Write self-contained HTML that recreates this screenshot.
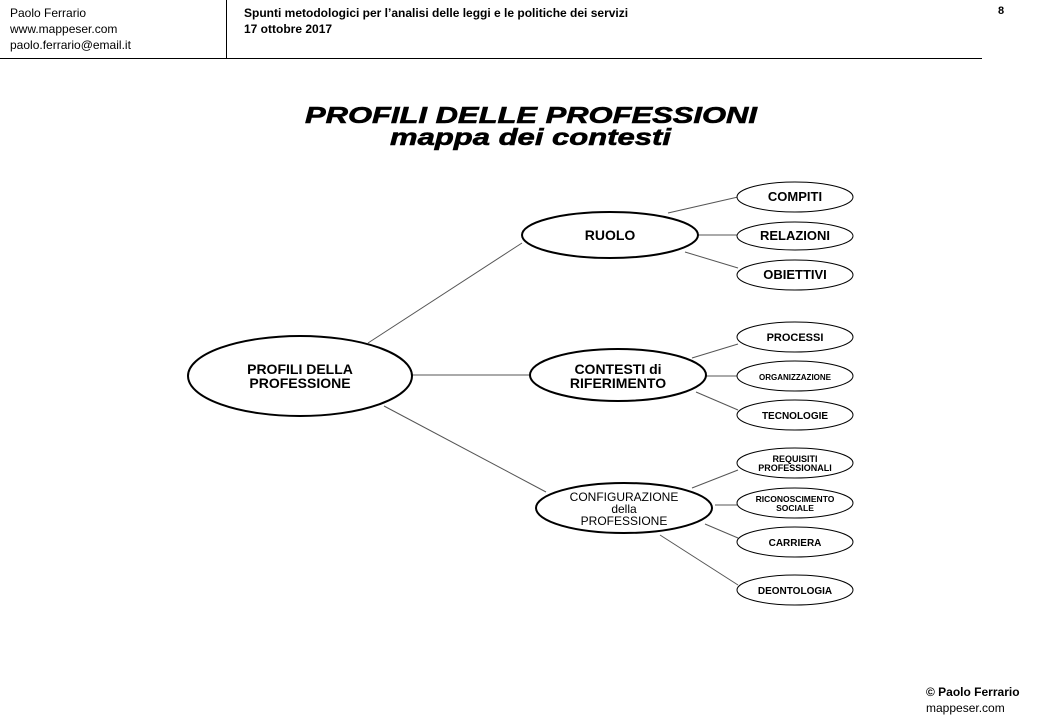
<!DOCTYPE html>
<html><head><meta charset="utf-8"><style>
body{margin:0;width:1040px;height:720px;background:#fff;position:relative;overflow:hidden;font-family:"Liberation Sans",sans-serif;}
.t{position:absolute;color:#000;white-space:nowrap;}
</style></head><body>
<div class="t" style="left:10px;top:5px;font-size:12px;line-height:16px;">Paolo Ferrario<br>www.mappeser.com<br>paolo.ferrario@email.it</div>
<div class="t" style="left:244px;top:5px;font-size:12px;line-height:16px;font-weight:bold;">Spunti metodologici per l’analisi delle leggi e le politiche dei servizi<br>17 ottobre 2017</div>
<div class="t" style="left:998px;top:5px;font-size:11px;font-weight:bold;">8</div>
<div style="position:absolute;left:226px;top:0;width:1px;height:58px;background:#000"></div>
<div style="position:absolute;left:0;top:58px;width:982px;height:1px;background:#000"></div>
<div class="t" style="left:926px;top:684px;font-size:12px;line-height:16px;"><b>© Paolo Ferrario</b><br>mappeser.com</div>
<svg width="1040" height="720" style="position:absolute;left:0;top:0" font-family="Liberation Sans, sans-serif" font-weight="bold">
<text x="305" y="123" font-size="23" font-style="italic" textLength="452" lengthAdjust="spacingAndGlyphs" stroke="#000" stroke-width="0.6">PROFILI DELLE PROFESSIONI</text>
<text x="390" y="145" font-size="23" font-style="italic" textLength="281" lengthAdjust="spacingAndGlyphs" stroke="#000" stroke-width="0.6">mappa dei contesti</text>
<g stroke="#555" stroke-width="1">
<line x1="368" y1="343" x2="522" y2="243"/><line x1="412" y1="375" x2="530" y2="375"/><line x1="384" y1="406" x2="546" y2="492"/>
<line x1="668" y1="213" x2="738" y2="197"/><line x1="698" y1="235" x2="737" y2="235"/><line x1="685" y1="252" x2="738" y2="268"/>
<line x1="692" y1="358" x2="738" y2="344"/><line x1="706" y1="376" x2="737" y2="376"/><line x1="696" y1="392" x2="738" y2="410"/>
<line x1="692" y1="488" x2="738" y2="470"/><line x1="715" y1="505" x2="737" y2="505"/><line x1="705" y1="524" x2="738" y2="538"/><line x1="660" y1="535" x2="738" y2="585"/>
</g>
<g fill="#fff" stroke="#000">
<ellipse cx="300" cy="376" rx="112" ry="40" stroke-width="2"/>
<ellipse cx="610" cy="235" rx="88" ry="23" stroke-width="2"/>
<ellipse cx="618" cy="375" rx="88" ry="26" stroke-width="2"/>
<ellipse cx="624" cy="508" rx="88" ry="25" stroke-width="2"/>
<g stroke-width="1">
<ellipse cx="795" cy="197" rx="58" ry="15"/><ellipse cx="795" cy="236" rx="58" ry="14"/><ellipse cx="795" cy="275" rx="58" ry="15"/>
<ellipse cx="795" cy="337" rx="58" ry="15"/><ellipse cx="795" cy="376" rx="58" ry="15"/><ellipse cx="795" cy="415" rx="58" ry="15"/>
<ellipse cx="795" cy="463" rx="58" ry="15"/><ellipse cx="795" cy="503" rx="58" ry="15"/><ellipse cx="795" cy="542" rx="58" ry="15"/><ellipse cx="795" cy="590" rx="58" ry="15"/>
</g></g>
<g text-anchor="middle" fill="#000">
<text x="300" y="374" font-size="14">PROFILI DELLA</text><text x="300" y="388" font-size="14">PROFESSIONE</text>
<text x="610" y="240" font-size="14">RUOLO</text>
<text x="618" y="374" font-size="14">CONTESTI di</text><text x="618" y="388" font-size="14">RIFERIMENTO</text>
<text x="624" y="501" font-size="12" font-weight="normal">CONFIGURAZIONE</text><text x="624" y="513" font-size="12" font-weight="normal">della</text><text x="624" y="525" font-size="12" font-weight="normal">PROFESSIONE</text>
<text x="795" y="201" font-size="13">COMPITI</text><text x="795" y="240" font-size="13">RELAZIONI</text><text x="795" y="279" font-size="13">OBIETTIVI</text>
<text x="795" y="341" font-size="11">PROCESSI</text><text x="795" y="380" font-size="8">ORGANIZZAZIONE</text><text x="795" y="419" font-size="10">TECNOLOGIE</text>
<text x="795" y="462" font-size="9">REQUISITI</text><text x="795" y="471" font-size="9">PROFESSIONALI</text>
<text x="795" y="502" font-size="8.5">RICONOSCIMENTO</text><text x="795" y="511" font-size="8.5">SOCIALE</text>
<text x="795" y="546" font-size="10">CARRIERA</text><text x="795" y="594" font-size="10">DEONTOLOGIA</text>
</g>
</svg>
</body></html>
